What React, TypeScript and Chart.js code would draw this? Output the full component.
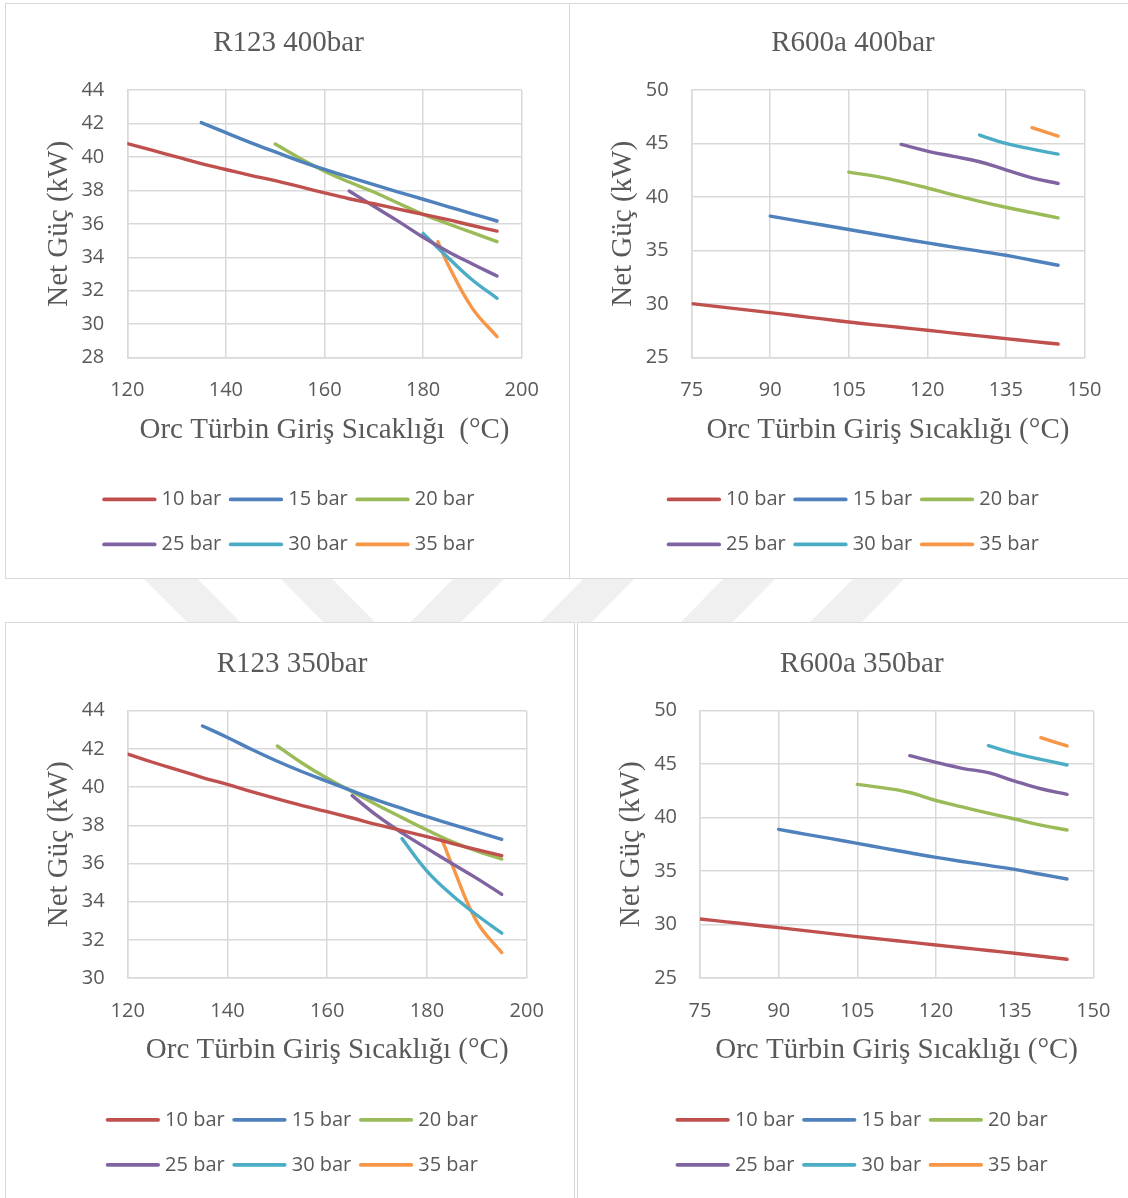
import React, { useEffect, useRef } from 'react';
import Chart from 'chart.js/auto';

// ---------- shared series info ----------
const SERIES_LABELS = ['10 bar', '15 bar', '20 bar', '25 bar', '30 bar', '35 bar'];
const SERIES_COLORS = ['#C0504D', '#4F81BD', '#9BBB59', '#8064A2', '#4BACC6', '#F79646'];

// ---------- R123 400bar ----------
const R123_400_T10 = [120, 125, 130, 135, 140, 145, 150, 155, 160, 165, 170, 175, 180, 185, 190, 195];
const R123_400_P10 = [40.8, 40.4, 40.0, 39.6, 39.25, 38.9, 38.58, 38.22, 37.85, 37.5, 37.2, 36.88, 36.57, 36.25, 35.9, 35.57];
const R123_400_T15 = [135, 140, 145, 150, 155, 160, 165, 170, 175, 180, 185, 190, 195];
const R123_400_P15 = [42.05, 41.45, 40.85, 40.3, 39.75, 39.25, 38.8, 38.35, 37.9, 37.47, 37.03, 36.6, 36.17];
const R123_400_T20 = [150, 155, 160, 165, 170, 175, 180, 185, 190, 195];
const R123_400_P20 = [40.77, 39.92, 39.15, 38.5, 37.9, 37.23, 36.57, 36.01, 35.47, 34.94];
const R123_400_T25 = [165, 170, 175, 180, 185, 190, 195];
const R123_400_P25 = [37.96, 37.05, 36.15, 35.2, 34.35, 33.6, 32.88];
const R123_400_T30 = [180, 185, 190, 195];
const R123_400_P30 = [35.43, 34.0, 32.64, 31.55];
const R123_400_T35 = [183, 185, 190, 195];
const R123_400_P35 = [34.94, 33.6, 30.95, 29.26];

// ---------- R600a 400bar ----------
const R600A_400_T10 = [75, 80, 85, 90, 95, 100, 105, 110, 115, 120, 125, 130, 135, 140, 145];
const R600A_400_P10 = [30.05, 29.77, 29.49, 29.21, 28.92, 28.62, 28.33, 28.07, 27.82, 27.56, 27.3, 27.04, 26.78, 26.52, 26.28];
const R600A_400_T15 = [90, 95, 100, 105, 110, 115, 120, 125, 130, 135, 140, 145];
const R600A_400_P15 = [38.22, 37.8, 37.39, 36.97, 36.55, 36.13, 35.72, 35.33, 34.95, 34.57, 34.1, 33.63];
const R600A_400_T20 = [105, 110, 115, 120, 125, 130, 135, 140, 145];
const R600A_400_P20 = [42.33, 41.95, 41.45, 40.85, 40.2, 39.6, 39.05, 38.55, 38.06];
const R600A_400_T25 = [115, 120, 125, 130, 135, 140, 145];
const R600A_400_P25 = [44.92, 44.3, 43.8, 43.3, 42.55, 41.8, 41.27];
const R600A_400_T30 = [130, 135, 140, 145];
const R600A_400_P30 = [45.79, 45.01, 44.48, 44.01];
const R600A_400_T35 = [140, 145];
const R600A_400_P35 = [46.48, 45.7];

// ---------- R123 350bar ----------
const R123_350_T10 = [120, 125, 130, 135, 140, 145, 150, 155, 160, 165, 170, 175, 180, 185, 190, 195];
const R123_350_P10 = [41.73, 41.3, 40.9, 40.5, 40.14, 39.75, 39.38, 39.03, 38.71, 38.38, 38.03, 37.72, 37.4, 37.05, 36.72, 36.41];
const R123_350_T15 = [135, 140, 145, 150, 155, 160, 165, 170, 175, 180, 185, 190, 195];
const R123_350_P15 = [43.2, 42.6, 41.95, 41.35, 40.8, 40.3, 39.8, 39.32, 38.88, 38.45, 38.05, 37.65, 37.26];
const R123_350_T20 = [150, 155, 160, 165, 170, 175, 180, 185, 190, 195];
const R123_350_P20 = [42.15, 41.25, 40.46, 39.76, 39.06, 38.4, 37.75, 37.14, 36.65, 36.23];
const R123_350_T25 = [165, 170, 175, 180, 185, 190, 195];
const R123_350_P25 = [39.55, 38.5, 37.6, 36.79, 36.0, 35.22, 34.38];
const R123_350_T30 = [175, 180, 185, 190, 195];
const R123_350_P30 = [37.3, 35.6, 34.35, 33.3, 32.35];
const R123_350_T35 = [183, 185, 190, 195];
const R123_350_P35 = [37.26, 35.95, 32.95, 31.33];

// ---------- R600a 350bar ----------
const R600A_350_T10 = [75, 80, 85, 90, 95, 100, 105, 110, 115, 120, 125, 130, 135, 140, 145];
const R600A_350_P10 = [30.52, 30.25, 29.98, 29.71, 29.43, 29.15, 28.87, 28.61, 28.35, 28.09, 27.83, 27.57, 27.31, 27.03, 26.75];
const R600A_350_T15 = [90, 95, 100, 105, 110, 115, 120, 125, 130, 135, 140, 145];
const R600A_350_P15 = [38.9, 38.46, 38.03, 37.59, 37.15, 36.71, 36.28, 35.9, 35.53, 35.16, 34.7, 34.26];
const R600A_350_T20 = [105, 110, 115, 120, 125, 130, 135, 140, 145];
const R600A_350_P20 = [43.11, 42.78, 42.35, 41.6, 41.0, 40.42, 39.87, 39.3, 38.84];
const R600A_350_T25 = [115, 120, 125, 130, 135, 140, 145];
const R600A_350_P25 = [45.79, 45.17, 44.61, 44.2, 43.42, 42.7, 42.18];
const R600A_350_T30 = [130, 135, 140, 145];
const R600A_350_P30 = [46.73, 46.01, 45.45, 44.92];
const R600A_350_T35 = [140, 145];
const R600A_350_P35 = [47.48, 46.7];

// ---------- axis ticks / texts ----------
const R123_X_TICKS = [120, 140, 160, 180, 200];
const R600A_X_TICKS = [75, 90, 105, 120, 135, 150];
const R123_400_Y_TICKS = [28, 30, 32, 34, 36, 38, 40, 42, 44];
const R123_350_Y_TICKS = [30, 32, 34, 36, 38, 40, 42, 44];
const R600A_Y_TICKS = [25, 30, 35, 40, 45, 50];
const Y_TITLE = 'Net Güç (kW)';
const X_TITLE_WIDE = 'Orc Türbin Giriş Sıcaklığı  (°C)';
const X_TITLE = 'Orc Türbin Giriş Sıcaklığı (°C)';

type Panel = {
  title: string; xTitle: string;
  xTicks: number[]; yTicks: number[];
  series: [number[], number[]][];
  left: number; top: number; boxW: number; boxH: number;
  w: number; h: number;
  padL: number; padR: number; padT: number; padB: number;
  yW: number; xH: number; yTitlePad: number;
};

const PANELS: Panel[] = [
  {
    title: 'R123 400bar', xTitle: X_TITLE_WIDE, xTicks: R123_X_TICKS, yTicks: R123_400_Y_TICKS,
    series: [[R123_400_T10, R123_400_P10], [R123_400_T15, R123_400_P15], [R123_400_T20, R123_400_P20],
      [R123_400_T25, R123_400_P25], [R123_400_T30, R123_400_P30], [R123_400_T35, R123_400_P35]],
    left: 5, top: 3, boxW: 565, boxH: 576, w: 563, h: 574,
    padL: 49.3, padR: 47.3, padT: 0, padB: 5.1, yW: 72, xH: 115.2, yTitlePad: 2.25,
  },
  {
    title: 'R600a 400bar', xTitle: X_TITLE, xTicks: R600A_X_TICKS, yTicks: R600A_Y_TICKS,
    series: [[R600A_400_T10, R600A_400_P10], [R600A_400_T15, R600A_400_P15], [R600A_400_T20, R600A_400_P20],
      [R600A_400_T25, R600A_400_P25], [R600A_400_T30, R600A_400_P30], [R600A_400_T35, R600A_400_P35]],
    left: 569, top: 3, boxW: 600, boxH: 576, w: 563, h: 574,
    padL: 51.7, padR: 48.7, padT: 0, padB: 5.1, yW: 70, xH: 115.2, yTitlePad: 0.35,
  },
  {
    title: 'R123 350bar', xTitle: X_TITLE, xTicks: R123_X_TICKS, yTicks: R123_350_Y_TICKS,
    series: [[R123_350_T10, R123_350_P10], [R123_350_T15, R123_350_P15], [R123_350_T20, R123_350_P20],
      [R123_350_T25, R123_350_P25], [R123_350_T30, R123_350_P30], [R123_350_T35, R123_350_P35]],
    left: 5, top: 622, boxW: 570, boxH: 620, w: 568, h: 574,
    padL: 51.3, padR: 47.3, padT: 1.7, padB: 3.7, yW: 70.4, xH: 115.3, yTitlePad: 1.05,
  },
  {
    title: 'R600a 350bar', xTitle: X_TITLE, xTicks: R600A_X_TICKS, yTicks: R600A_Y_TICKS,
    series: [[R600A_350_T10, R600A_350_P10], [R600A_350_T15, R600A_350_P15], [R600A_350_T20, R600A_350_P20],
      [R600A_350_T25, R600A_350_P25], [R600A_350_T30, R600A_350_P30], [R600A_350_T35, R600A_350_P35]],
    left: 577, top: 622, boxW: 600, boxH: 620, w: 563, h: 574,
    padL: 52.3, padR: 47.7, padT: 1.7, padB: 3.7, yW: 69.7, xH: 115.3, yTitlePad: 0,
  },
];

const TEXT_GREY = '#595959';
const GRID_GREY = '#d9d9d9';
const SANS = "'Open Sans', 'Noto Sans', sans-serif";
const SERIF = "'Liberation Serif', 'Times New Roman', serif";

// draws Excel-like line samples inside the legend hit boxes
const legendLinePlugin = {
  id: 'legendLines',
  afterDraw(chart: any) {
    const lg = chart.legend;
    if (!lg || !lg.legendHitBoxes) return;
    const ctx = chart.ctx;
    lg.legendHitBoxes.forEach((hb: any, i: number) => {
      const item = lg.legendItems[i];
      const y = hb.top + hb.height / 2;
      ctx.save();
      ctx.strokeStyle = item.strokeStyle;
      ctx.lineWidth = 3.8;
      ctx.lineCap = 'round';
      ctx.beginPath();
      ctx.moveTo(hb.left + 1.5, y);
      ctx.lineTo(hb.left + 52, y);
      ctx.stroke();
      ctx.restore();
    });
  },
};

function ChartPanel({ p }: { p: Panel }) {
  const ref = useRef<HTMLCanvasElement>(null);
  useEffect(() => {
    const xMin = p.xTicks[0], xMax = p.xTicks[p.xTicks.length - 1];
    const yMin = p.yTicks[0], yMax = p.yTicks[p.yTicks.length - 1];
    const chart = new Chart(ref.current as HTMLCanvasElement, {
      type: 'line',
      data: {
        datasets: p.series.map(([xs, ys], i) => ({
          label: SERIES_LABELS[i],
          data: xs.map((x, j) => ({ x, y: ys[j] })),
          borderColor: SERIES_COLORS[i],
          backgroundColor: SERIES_COLORS[i],
          borderWidth: 3.4,
          pointRadius: 0,
          pointHoverRadius: 0,
          tension: 0.4,
          fill: false,
          borderCapStyle: 'round',
          borderJoinStyle: 'round',
        })),
      },
      options: {
        responsive: false,
        maintainAspectRatio: false,
        animation: false,
        events: [],
        layout: { padding: { left: p.padL, right: p.padR, top: p.padT, bottom: p.padB } },
        scales: {
          x: {
            type: 'linear',
            min: xMin, max: xMax,
            afterFit: (s: any) => { s.height = p.xH; },
            afterBuildTicks: (s: any) => { s.ticks = p.xTicks.map((v) => ({ value: v })); },
            ticks: {
              color: TEXT_GREY, padding: 21, maxRotation: 0, autoSkip: false,
              font: { family: SANS, size: 20 },
            },
            grid: { color: GRID_GREY, lineWidth: 1.5, drawTicks: false },
            border: { color: GRID_GREY, width: 1.5 },
            title: {
              display: true, text: p.xTitle, color: TEXT_GREY,
              font: { family: SERIF, size: 29, weight: 'normal', lineHeight: 1.2 },
              padding: { top: 0, bottom: 25.5 },
            },
          },
          y: {
            type: 'linear',
            min: yMin, max: yMax,
            afterFit: (s: any) => { s.width = p.yW; },
            afterBuildTicks: (s: any) => { s.ticks = p.yTicks.map((v) => ({ value: v })); },
            ticks: {
              color: TEXT_GREY, padding: 23, autoSkip: false,
              font: { family: SANS, size: 20 },
            },
            grid: { color: GRID_GREY, lineWidth: 1.5, drawTicks: false },
            border: { color: GRID_GREY, width: 1.5 },
            title: {
              display: true, text: Y_TITLE, color: TEXT_GREY,
              font: { family: SERIF, size: 29, weight: 'normal', lineHeight: 0.1 },
              padding: { top: p.yTitlePad, bottom: 0 },
            },
          },
        },
        plugins: {
          title: {
            display: true, text: p.title, color: TEXT_GREY,
            font: { family: SERIF, size: 29, weight: 'normal', lineHeight: 1.2 },
            padding: { top: 22.2, bottom: 29 },
          },
          legend: {
            display: true, position: 'bottom', align: 'center',
            labels: {
              boxWidth: 49, boxHeight: 37, padding: 8, color: TEXT_GREY,
              font: { family: SANS, size: 20 },
              generateLabels: (c: any) =>
                (Chart as any).defaults.plugins.legend.labels.generateLabels(c).map((l: any) => ({
                  ...l, fillStyle: 'rgba(0,0,0,0)', lineWidth: 0,
                })),
            },
          },
          tooltip: { enabled: false },
        },
      } as any,
      plugins: [legendLinePlugin as any],
    });
    return () => chart.destroy();
  }, [p]);
  return (
    <canvas ref={ref} width={p.w} height={p.h} style={{ display: 'block', width: p.w, height: p.h }} />
  );
}

const WATERMARK: number[][] = [
  [144, 198, 241, 188],
  [281, 332, 376, 324],
  [453, 504, 460, 410],
  [583, 634, 591, 540],
  [723, 775, 732, 680],
  [853, 904, 861, 809],
];

export default function App() {
  return (
    <div style={{ position: 'absolute', left: 0, top: 0, width: 1128, height: 1198, background: '#ffffff', overflow: 'hidden' }}>
      <svg width={1128} height={1198} style={{ position: 'absolute', left: 0, top: 0 }}>
        {WATERMARK.map((q, i) => (
          <polygon key={i} points={`${q[0]},579 ${q[1]},579 ${q[2]},623 ${q[3]},623`} fill="#f0f0f0" />
        ))}
      </svg>
      {PANELS.map((p, i) => (
        <div key={i} style={{
          position: 'absolute', left: p.left, top: p.top, width: p.boxW, height: p.boxH,
          boxSizing: 'border-box', border: '1px solid #d9d9d9', background: '#ffffff', overflow: 'hidden',
        }}>
          <ChartPanel p={p} />
        </div>
      ))}
    </div>
  );
}
